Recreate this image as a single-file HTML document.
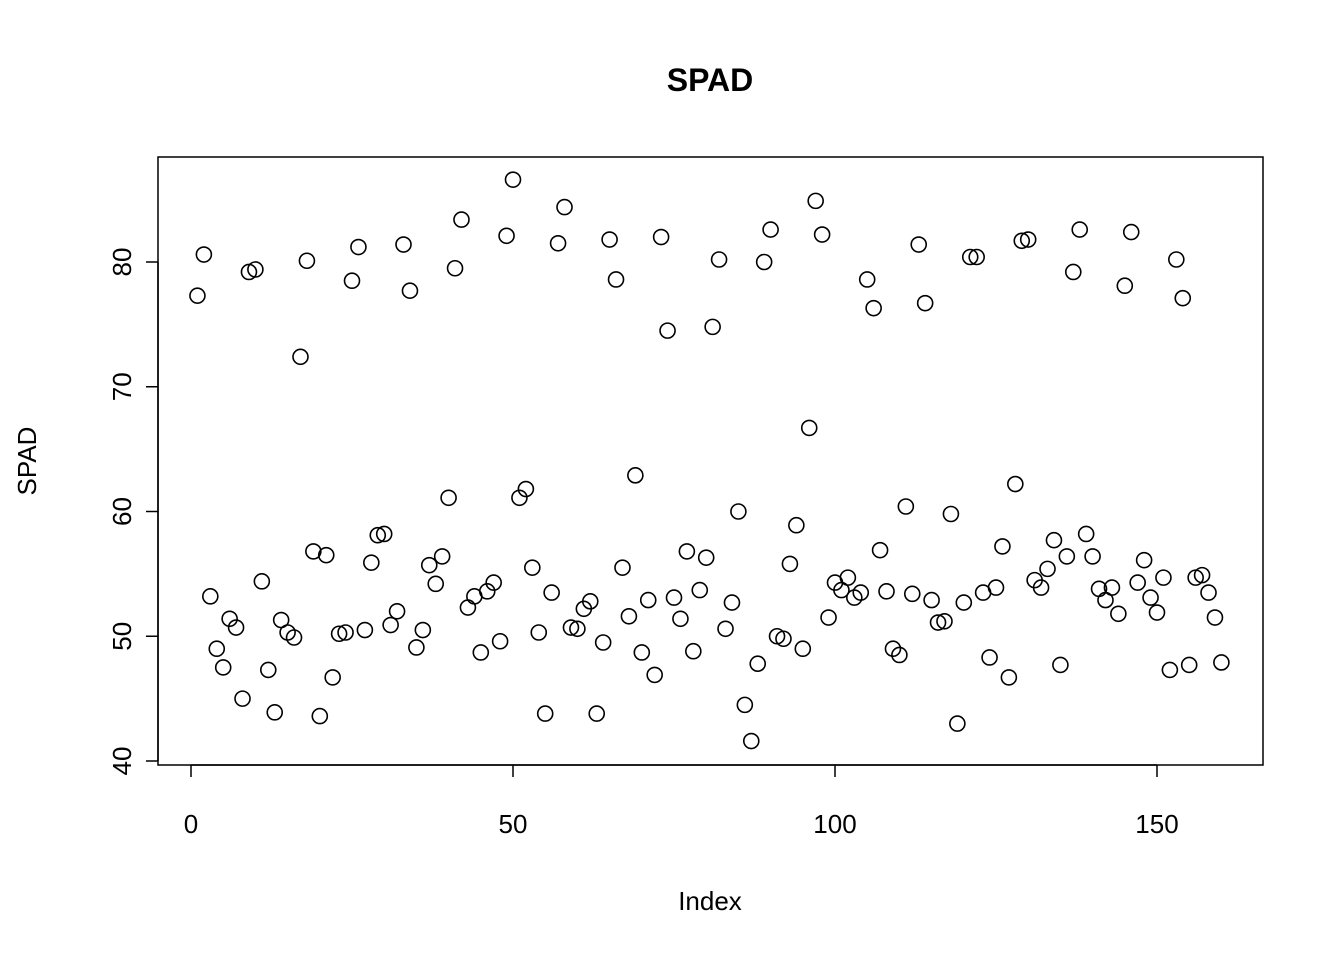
<!DOCTYPE html>
<html><head><meta charset="utf-8"><style>
html,body{margin:0;padding:0;background:#fff}
svg text{font-family:"Liberation Sans",Arial,sans-serif;fill:#000}
</style></head><body>
<svg id="chart" width="1344" height="960" xmlns="http://www.w3.org/2000/svg">
<text x="710" y="91" font-size="32" font-weight="bold" text-anchor="middle">SPAD</text>
<rect x="158" y="157" width="1105" height="608" fill="none" stroke="#000" stroke-width="1.5"/>
<g id="xaxis"></g>
<g id="yaxis"></g>
<g id="points"></g>
<text x="710" y="910" font-size="26" text-anchor="middle">Index</text>
<text x="0" y="0" font-size="26" text-anchor="middle" transform="translate(36,461) rotate(-90)">SPAD</text>
</svg>
<script>
const spadValues = [77.3,80.6,53.2,49.0,47.5,51.4,50.7,45.0,79.2,79.4,54.4,47.3,43.9,51.3,50.3,49.9,72.4,80.1,56.8,43.6,56.5,46.7,50.2,50.3,78.5,81.2,50.5,55.9,58.1,58.2,50.9,52.0,81.4,77.7,49.1,50.5,55.7,54.2,56.4,61.1,79.5,83.4,52.3,53.2,48.7,53.6,54.3,49.6,82.1,86.6,61.1,61.8,55.5,50.3,43.8,53.5,81.5,84.4,50.7,50.6,52.2,52.8,43.8,49.5,81.8,78.6,55.5,51.6,62.9,48.7,52.9,46.9,82.0,74.5,53.1,51.4,56.8,48.8,53.7,56.3,74.8,80.2,50.6,52.7,60.0,44.5,41.6,47.8,80.0,82.6,50.0,49.8,55.8,58.9,49.0,66.7,84.9,82.2,51.5,54.3,53.7,54.7,53.1,53.5,78.6,76.3,56.9,53.6,49.0,48.5,60.4,53.4,81.4,76.7,52.9,51.1,51.2,59.8,43.0,52.7,80.4,80.4,53.5,48.3,53.9,57.2,46.7,62.2,81.7,81.8,54.5,53.9,55.4,57.7,47.7,56.4,79.2,82.6,58.2,56.4,53.8,52.9,53.9,51.8,78.1,82.4,54.3,56.1,53.1,51.9,54.7,47.3,80.2,77.1,47.7,54.7,54.9,53.5,51.5,47.9];
const xTicks = [0,50,100,150];
const yTicks = [40,50,60,70,80];
const NS="http://www.w3.org/2000/svg";
function xs(v){return 191+(v-0)*966/150;}
function ys(v){return 761-(v-40)*12.475;}
const xa=document.getElementById('xaxis'), ya=document.getElementById('yaxis'), pg=document.getElementById('points');
function mk(tag,attrs,parent){const e=document.createElementNS(NS,tag);for(const k in attrs)e.setAttribute(k,attrs[k]);parent.appendChild(e);return e;}
let l=mk('line',{x1:xs(xTicks[0]),x2:xs(xTicks[xTicks.length-1]),y1:765,y2:765,stroke:'#000','stroke-width':1.5},xa);


xTicks.forEach(t=>{
  const tk=mk('line',{x1:xs(t),x2:xs(t),y1:765,y2:777,stroke:'#000','stroke-width':1.5},xa);
  
  
  const tx=mk('text',{x:xs(t),y:833,'font-size':26,'text-anchor':'middle'},xa);
  tx.textContent=t;
  
  
});
l=mk('line',{x1:158,x2:158,y1:ys(yTicks[0]),y2:ys(yTicks[yTicks.length-1]),stroke:'#000','stroke-width':1.5},ya);


yTicks.forEach(t=>{
  const tk=mk('line',{x1:146,x2:158,y1:ys(t),y2:ys(t),stroke:'#000','stroke-width':1.5},ya);
  
  
  const tx=mk('text',{x:0,y:0,'font-size':26,'text-anchor':'middle',transform:`translate(131,${ys(t)}) rotate(-90)`},ya);
  tx.textContent=t;
  
  
});
spadValues.forEach((v,i)=>{
  const c=mk('circle',{cx:xs(i+1),cy:ys(v),r:7.5,fill:'none',stroke:'#000','stroke-width':1.6},pg);
  
  
});
</script>
</body></html>
